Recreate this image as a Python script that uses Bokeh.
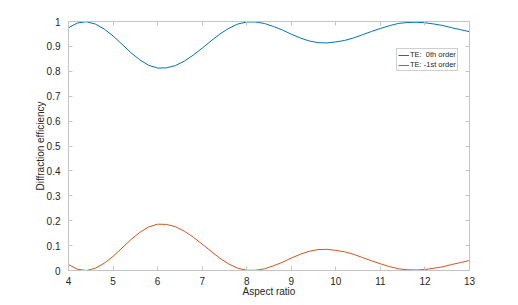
from bokeh.plotting import figure
from bokeh.models import Range1d, LinearAxis, SingleIntervalTicker, NumeralTickFormatter, Legend, LegendItem, CustomJSTickFormatter
from bokeh.embed import file_html
from bokeh.resources import INLINE

aspect_ratio = [4.0, 4.2, 4.4, 4.6, 4.8, 5.0, 5.2, 5.4, 5.6, 5.8,
                6.0, 6.2, 6.4, 6.6, 6.8, 7.0, 7.2, 7.4, 7.6, 7.8,
                8.0, 8.2, 8.4, 8.6, 8.8, 9.0, 9.2, 9.4, 9.6, 9.8,
                10.0, 10.2, 10.4, 10.6, 10.8, 11.0, 11.2, 11.4, 11.6, 11.8,
                12.0, 12.2, 12.4, 12.6, 12.8, 13.0]

te_0th = [0.975, 0.994, 0.999, 0.990, 0.970, 0.942, 0.909, 0.875, 0.846, 0.824,
          0.813, 0.814, 0.823, 0.841, 0.865, 0.893, 0.922, 0.950, 0.973, 0.990,
          0.998, 0.998, 0.992, 0.980, 0.966, 0.949, 0.934, 0.922, 0.915, 0.914,
          0.918, 0.924, 0.934, 0.947, 0.960, 0.972, 0.983, 0.992, 0.996, 0.997,
          0.995, 0.990, 0.984, 0.975, 0.967, 0.959]

te_m1st = [0.024, 0.005, 0.000, 0.009, 0.029, 0.057, 0.090, 0.124, 0.153, 0.175,
           0.186, 0.185, 0.176, 0.158, 0.134, 0.106, 0.077, 0.049, 0.026, 0.009,
           0.001, 0.001, 0.007, 0.019, 0.033, 0.050, 0.065, 0.077, 0.084, 0.085,
           0.081, 0.075, 0.065, 0.052, 0.039, 0.027, 0.016, 0.007, 0.003, 0.002,
           0.004, 0.009, 0.015, 0.024, 0.032, 0.040]

series_labels = ["TE:  0th order", "TE: -1st order"]
series_colors = ["#0072BD", "#D95319"]

FONT = "Liberation Sans"
AX_COL = "#c4c4c4"
TXT_COL = "#262626"

p = figure(frame_width=401, frame_height=249,
           x_range=Range1d(4, 13), y_range=Range1d(0, 1),
           output_backend="svg", toolbar_location=None,
           min_border_left=68, min_border_top=21, min_border_right=38, min_border_bottom=30,
           x_axis_label="Aspect ratio", y_axis_label="Diffraction efficiency")
p.background_fill_color = "white"
p.border_fill_color = "white"
p.outline_line_color = AX_COL
p.xgrid.visible = False
p.ygrid.visible = False

r0 = p.line(aspect_ratio, te_0th, line_color=series_colors[0], line_width=1.0)
r1 = p.line(aspect_ratio, te_m1st, line_color=series_colors[1], line_width=1.0)

def style_axis(ax, ticker):
    ax.ticker = ticker
    ax.axis_line_color = AX_COL
    ax.major_tick_line_color = AX_COL
    ax.major_tick_in = 4
    ax.major_tick_out = 0
    ax.minor_tick_line_color = None
    ax.major_label_text_font = FONT
    ax.major_label_text_color = TXT_COL
    ax.major_label_text_font_size = "10px"
    ax.axis_label_text_font = FONT
    ax.axis_label_text_color = TXT_COL
    ax.axis_label_text_font_size = "10px"
    ax.axis_label_text_font_style = "normal"

style_axis(p.xaxis[0], SingleIntervalTicker(interval=1))
style_axis(p.yaxis[0], SingleIntervalTicker(interval=0.1))
p.yaxis[0].formatter = NumeralTickFormatter(format="0.[0]")
p.xaxis[0].major_label_standoff = 2
p.yaxis[0].major_label_standoff = 4
p.xaxis[0].axis_label_standoff = -2
p.yaxis[0].axis_label_standoff = -2

blank = CustomJSTickFormatter(code="return '';")
top_ax = LinearAxis()
style_axis(top_ax, SingleIntervalTicker(interval=1))
top_ax.formatter = blank
top_ax.major_label_standoff = 0
right_ax = LinearAxis()
style_axis(right_ax, SingleIntervalTicker(interval=0.1))
right_ax.formatter = blank
right_ax.major_label_standoff = 0
p.add_layout(top_ax, "above")
p.add_layout(right_ax, "right")

legend = Legend(items=[LegendItem(label=series_labels[0], renderers=[r0]),
                       LegendItem(label=series_labels[1], renderers=[r1])],
                location=(328, 199))
legend.label_text_font = FONT
legend.label_text_font_size = "7.5px"
legend.label_text_color = TXT_COL
legend.glyph_width = 11
legend.glyph_height = 8
legend.label_height = 8
legend.label_width = 0
legend.label_standoff = 1
legend.padding = 1
legend.spacing = 1
legend.margin = 0
legend.border_line_color = "#a0a0a0"
legend.border_line_width = 0.7
legend.background_fill_color = "white"
legend.background_fill_alpha = 1.0
p.add_layout(legend, "center")

open("out.html", "w").write(file_html(p, INLINE))
